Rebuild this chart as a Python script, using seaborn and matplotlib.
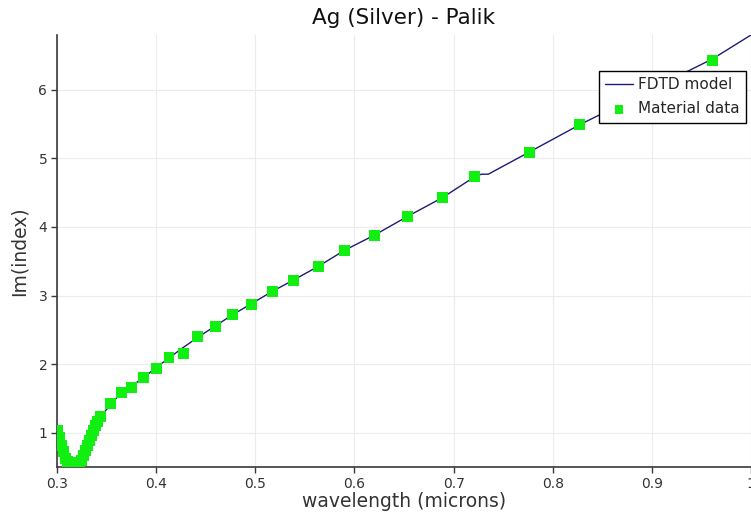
import matplotlib
matplotlib.use("Agg")
import matplotlib.pyplot as plt
import seaborn as sns
import pandas as pd

# Palik silver: tabulated extinction coefficient (imaginary part of index)
data_wavelength = [0.3010, 0.3030, 0.3050, 0.3070, 0.3090, 0.3110, 0.3130,
                   0.3150, 0.3170, 0.3190, 0.3210, 0.3230, 0.3250, 0.3270,
                   0.3290, 0.3310, 0.3330, 0.3350, 0.3370, 0.3390, 0.3410,
                   0.3435, 0.3535, 0.3650, 0.3750, 0.3870, 0.4006, 0.4130,
                   0.4275, 0.4416, 0.4600, 0.4770, 0.4960, 0.5170, 0.5390,
                   0.5640, 0.5904, 0.6199, 0.6535, 0.6890, 0.7210, 0.7766,
                   0.8270, 0.9610]
data_im_index = [1.03, 0.93, 0.82, 0.72, 0.63, 0.58, 0.56,
                 0.55, 0.55, 0.55, 0.56, 0.57, 0.60, 0.67,
                 0.74, 0.82, 0.89, 0.96, 1.03, 1.10, 1.16,
                 1.23, 1.42, 1.59, 1.66, 1.80, 1.94, 2.10,
                 2.16, 2.40, 2.55, 2.72, 2.87, 3.06, 3.22,
                 3.43, 3.66, 3.87, 4.15, 4.43, 4.73, 5.09,
                 5.49, 6.43]

# FDTD fitted material model
model_wavelength = [0.300, 0.305, 0.310, 0.315, 0.320, 0.325, 0.330, 0.335,
                    0.340, 0.345, 0.355, 0.365, 0.375, 0.387, 0.400, 0.413,
                    0.427, 0.443, 0.459, 0.477, 0.496, 0.517, 0.539, 0.564,
                    0.590, 0.620, 0.653, 0.689, 0.721, 0.728, 0.735, 0.776,
                    0.827, 0.961, 1.000]
model_im_index = [1.08, 0.82, 0.60, 0.54, 0.54, 0.60, 0.78, 0.96,
                  1.13, 1.25, 1.43, 1.58, 1.68, 1.80, 1.95, 2.09,
                  2.24, 2.40, 2.55, 2.72, 2.88, 3.06, 3.23, 3.43,
                  3.66, 3.88, 4.15, 4.43, 4.73, 4.77, 4.77, 5.09,
                  5.49, 6.45, 6.80]

x_ticks = [0.3, 0.4, 0.5, 0.6, 0.7, 0.8, 0.9, 1.0]
x_tick_labels = ["0.3", "0.4", "0.5", "0.6", "0.7", "0.8", "0.9", "1"]
y_ticks = [1, 2, 3, 4, 5, 6]

sns.set_theme(style="whitegrid")
plt.rcParams["font.family"] = ["DejaVu Sans"]

fig = plt.figure(figsize=(7.51, 5.17), dpi=100)
ax = fig.add_axes([57 / 751, 1 - 467 / 517, 1 - 57 / 751, (467 - 35) / 517])

model_df = pd.DataFrame({"wavelength": model_wavelength, "im": model_im_index})
data_df = pd.DataFrame({"wavelength": data_wavelength, "im": data_im_index})

sns.lineplot(data=model_df, x="wavelength", y="im", ax=ax, color="#1c1c78",
             linewidth=1.0, label="FDTD model", zorder=2)
sns.scatterplot(data=data_df, x="wavelength", y="im", ax=ax, marker="s",
                s=62, color="#11ee11", edgecolor="none", linewidth=0,
                label="Material data", zorder=3)

ax.set_xlim(0.3, 1.0)
ax.set_ylim(0.5, 6.8)
ax.set_xticks(x_ticks)
ax.set_xticklabels(x_tick_labels)
ax.set_yticks(y_ticks)

ax.set_facecolor("white")
ax.grid(True, color="#ececec", linewidth=0.8)
for side in ("top", "right"):
    ax.spines[side].set_visible(False)
for side in ("left", "bottom"):
    ax.spines[side].set_visible(True)
    ax.spines[side].set_color("#3a3a3a")
    ax.spines[side].set_linewidth(1.2)

ax.tick_params(axis="both", which="major", direction="out", length=4,
               width=1.0, color="#3a3a3a", labelsize=10, labelcolor="#333333",
               pad=3, bottom=True, left=True)

ax.set_xlabel("wavelength (microns)", fontsize=13.5, color="#333333", labelpad=1)
ax.set_ylabel("Im(index)", fontsize=13.5, color="#333333", labelpad=7)
ax.set_title("Ag (Silver) - Palik", fontsize=15.5, color="#111111", pad=8)

leg = ax.legend(loc="upper right", bbox_to_anchor=(0.993, 0.917),
                borderaxespad=0, fontsize=11, fancybox=False, framealpha=1,
                edgecolor="black", handlelength=1.85, borderpad=0.4,
                labelspacing=0.62, handletextpad=0.35, markerscale=0.8)
leg.get_frame().set_linewidth(1.0)

fig.savefig("out.png", dpi=100)
